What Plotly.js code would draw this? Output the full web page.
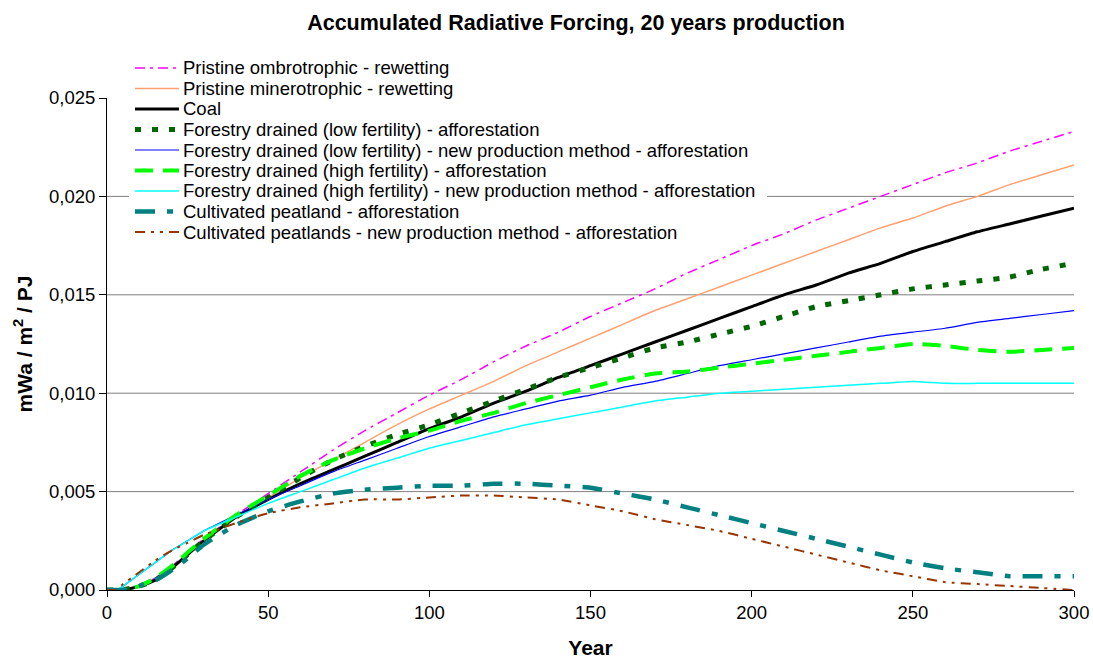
<!DOCTYPE html>
<html>
<head>
<meta charset="utf-8">
<script src="https://cdn.plot.ly/plotly-3.0.1.min.js"></script>
<style>html,body{margin:0;padding:0;background:#fff;}#chart{width:1093px;height:659px;}</style>
</head>
<body>
<div id="chart"></div>
<script>
// ---- data ----
var years = [0,3,5,10,15,20,25,30,40,50,60,70,80,90,100,110,120,130,140,150,160,170,180,190,200,210,220,230,240,250,260,270,280,290,300];

var pristineOmbro = [0,0,0,0.0002,0.0006,0.0012,0.0019,0.0026,0.0038,0.0049,0.0060,0.0071,0.0081,0.0090,0.0099,0.0107,0.0116,0.0124,0.0131,0.0139,0.0146,0.0153,0.0161,0.0168,0.0175,0.0181,0.0188,0.0194,0.0200,0.0206,0.0212,0.0217,0.0223,0.0228,0.0233];
var pristineMinero = [0,0,0,0.0002,0.0005,0.0011,0.0018,0.0025,0.0037,0.0047,0.0057,0.0066,0.0075,0.0084,0.0092,0.0099,0.0106,0.0114,0.0121,0.0128,0.0135,0.0142,0.0148,0.0154,0.0160,0.0166,0.0172,0.0178,0.0184,0.0189,0.0195,0.0200,0.0206,0.0211,0.0216];
var coal = [0,0,0,0.0002,0.0005,0.0011,0.0018,0.0025,0.0037,0.0046,0.0054,0.0061,0.0068,0.0075,0.0082,0.0088,0.0095,0.0101,0.0108,0.0114,0.0120,0.0126,0.0132,0.0138,0.0144,0.0150,0.0155,0.0161,0.0166,0.0172,0.0177,0.0182,0.0186,0.0190,0.0194];
var forestLow = [0,0,0,0.0002,0.0005,0.0011,0.0018,0.0025,0.0037,0.0047,0.0057,0.0066,0.0073,0.0079,0.0084,0.0090,0.0096,0.0102,0.0108,0.0113,0.0118,0.0123,0.0126,0.0130,0.0134,0.0139,0.0144,0.0147,0.0150,0.0153,0.0155,0.0157,0.0159,0.0163,0.0166];
var forestLowNew = [0,0,0.0002,0.0008,0.0014,0.0020,0.0025,0.0030,0.0038,0.0046,0.0053,0.0060,0.0066,0.0072,0.0078,0.0083,0.0088,0.0092,0.0096,0.0099,0.0103,0.0106,0.0110,0.0114,0.0117,0.0120,0.0123,0.0126,0.0129,0.0131,0.0133,0.0136,0.0138,0.0140,0.0142];
var forestHigh = [0,0,0,0.0002,0.0006,0.0012,0.0019,0.0026,0.0038,0.0048,0.0058,0.0066,0.0072,0.0077,0.0081,0.0086,0.0090,0.0095,0.0099,0.0103,0.0107,0.0110,0.0111,0.0113,0.0115,0.0117,0.0119,0.0121,0.0123,0.0125,0.0124,0.0122,0.0121,0.0122,0.0123];
var forestHighNew = [0,0,0.0002,0.0008,0.0014,0.0020,0.0025,0.0030,0.0037,0.0044,0.0050,0.0056,0.0062,0.0067,0.0072,0.0076,0.0080,0.0084,0.0087,0.0090,0.0093,0.0096,0.0098,0.0100,0.0101,0.0102,0.0103,0.0104,0.0105,0.0106,0.0105,0.0105,0.0105,0.0105,0.0105];
var cultivated = [0,0,0,0.0002,0.0005,0.0010,0.0016,0.0023,0.0033,0.0040,0.0045,0.0049,0.0051,0.0052,0.0053,0.0053,0.0054,0.0054,0.0053,0.0052,0.0049,0.0046,0.0042,0.0038,0.0034,0.0030,0.0026,0.0022,0.0018,0.0014,0.0011,0.0009,0.0007,0.0007,0.0007];
var cultivatedNew = [0,0,0.0003,0.0009,0.0015,0.0020,0.0024,0.0028,0.0034,0.0039,0.0042,0.0044,0.0046,0.0046,0.0047,0.0048,0.0048,0.0047,0.0046,0.0043,0.0040,0.0036,0.0033,0.0030,0.0026,0.0022,0.0018,0.0014,0.0010,0.0007,0.0004,0.0003,0.0002,0.0001,0.0000];

var seriesNames = [
  "Pristine ombrotrophic - rewetting",
  "Pristine minerotrophic - rewetting",
  "Coal",
  "Forestry drained (low fertility) - afforestation",
  "Forestry drained (low fertility) - new production method - afforestation",
  "Forestry drained (high fertility) - afforestation",
  "Forestry drained (high fertility) - new production method - afforestation",
  "Cultivated peatland - afforestation",
  "Cultivated peatlands - new production method - afforestation"
];
var seriesValues = [pristineOmbro, pristineMinero, coal, forestLow, forestLowNew, forestHigh, forestHighNew, cultivated, cultivatedNew];

var yTickVals = [0, 0.005, 0.010, 0.015, 0.020, 0.025];
var gridVals = [0.005, 0.010, 0.015, 0.020];
var xTickVals = [0, 50, 100, 150, 200, 250, 300];

// ---- styles ----
var colors = ["#FF00FF", "#FFA070", "#000000", "#006600", "#0000FF", "#00FF00", "#00FFFF", "#008080", "#993300"];
var widths = [1.5, 1.5, 3, 5, 1.2, 4, 1.5, 4.5, 2];
var dashes = ["10px,5px,3px,5px", "solid", "solid", "6px,11px", "solid", "18px,10px", "solid", "20px,12px,6px,12px", "10px,6px,3px,6px,3px,6px"];

var FONT = "Liberation Sans, Arial, Helvetica, sans-serif";

var traces = seriesValues.map(function (vals, i) {
  return {
    type: "scatter", mode: "lines", x: years, y: vals, name: seriesNames[i],
    line: { color: colors[i], width: widths[i], dash: dashes[i], shape: "spline", smoothing: 0.5 },
    showlegend: false, hoverinfo: "skip"
  };
});

// plot box in pixels
var W = 1093, H = 659, ML = 107, MR = 19, MT = 98, MB = 69;
var PW = W - ML - MR, PH = H - MT - MB;
function px2x(px) { return (px - ML) / PW; }
function py2y(py) { return (H - MB - py) / PH; }

var shapes = [];
gridVals.forEach(function (v) {
  shapes.push({ type: "line", xref: "paper", yref: "y", x0: 0, x1: 1, y0: v, y1: v,
    line: { color: "#808080", width: 1 }, layer: "below" });
});
// legend background
shapes.push({ type: "rect", xref: "paper", yref: "paper",
  x0: px2x(129), x1: px2x(767), y0: py2y(243), y1: py2y(57),
  fillcolor: "#ffffff", line: { width: 0 }, layer: "below" });

var annotations = [];
var rowY0 = 68, rowStep = 20.5;
seriesNames.forEach(function (nm, i) {
  var py = rowY0 + i * rowStep;
  shapes.push({ type: "line", xref: "paper", yref: "paper",
    x0: px2x(135), x1: px2x(179), y0: py2y(py), y1: py2y(py),
    line: { color: colors[i], width: widths[i], dash: dashes[i] }, layer: "above" });
  annotations.push({ xref: "paper", yref: "paper", x: px2x(181), y: py2y(py),
    xanchor: "left", yanchor: "middle", showarrow: false, text: nm,
    font: { family: FONT, size: 18.5, color: "#000" } });
});

var layout = {
  width: W, height: H,
  margin: { l: ML, r: MR, t: MT, b: MB, pad: 0 },
  paper_bgcolor: "#ffffff", plot_bgcolor: "#ffffff",
  separators: ",.",
  font: { family: FONT, color: "#000" },
  title: {
    text: "Accumulated Radiative Forcing, 20 years production",
    font: { family: FONT, size: 21.5, weight: "bold", color: "#000" },
    xref: "container", yref: "container", x: 576 / W, y: 1 - 22 / H,
    xanchor: "center", yanchor: "middle"
  },
  xaxis: {
    range: [0, 300], tickvals: xTickVals, ticktext: xTickVals.map(String),
    showgrid: false, zeroline: false, showline: true, linecolor: "#000", linewidth: 1,
    ticks: "outside", ticklen: 6, tickcolor: "#000", tickwidth: 1,
    tickfont: { family: FONT, size: 18.5, color: "#000" },
    title: { text: "Year", font: { family: FONT, size: 21, weight: "bold", color: "#000" }, standoff: 20 },
    automargin: false, fixedrange: true
  },
  yaxis: {
    range: [0, 0.025], tickvals: yTickVals, tickformat: ".3f",
    showgrid: false, zeroline: false, showline: true, linecolor: "#000", linewidth: 1,
    ticks: "outside", ticklen: 7, tickcolor: "#000", tickwidth: 1,
    tickfont: { family: FONT, size: 18.5, color: "#000" },
    title: { text: "mWa / m<sup>2</sup> / PJ", font: { family: FONT, size: 21, weight: "bold", color: "#000" }, standoff: 10 },
    automargin: false, fixedrange: true
  },
  shapes: shapes,
  annotations: annotations,
  showlegend: false
};

Plotly.newPlot("chart", traces, layout, { displayModeBar: false, staticPlot: true });
</script>
</body>
</html>
